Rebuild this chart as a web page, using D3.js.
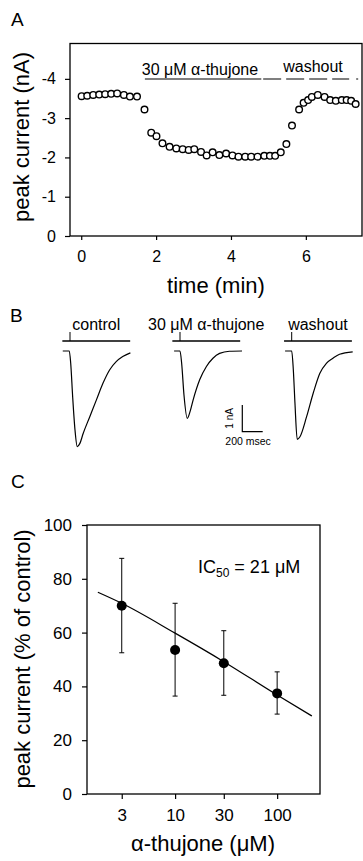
<!DOCTYPE html>
<html>
<head>
<meta charset="utf-8">
<script src="https://cdn.jsdelivr.net/npm/d3@7"></script>
<style>
  html, body { margin: 0; padding: 0; background: #fff; }
  svg { display: block; font-family: 'Liberation Sans', Arial, sans-serif; }
  text { fill: #000; }
</style>
</head>
<body>
<div id="chart"></div>
<script>
'use strict';

// ---- panel A: peak current vs time ----
var timeMin = [0.01, 0.16, 0.32, 0.48, 0.64, 0.80, 0.96, 1.14, 1.30, 1.49,
    1.69, 1.87, 2.01, 2.17, 2.36, 2.54, 2.71, 2.87, 3.02, 3.20,
    3.35, 3.51, 3.69, 3.87, 4.04, 4.20, 4.38, 4.54, 4.71, 4.89,
    5.04, 5.18, 5.33, 5.48, 5.63, 5.82, 5.94, 6.06, 6.16, 6.32,
    6.50, 6.65, 6.80, 6.96, 7.09, 7.21, 7.33];
var peakNA = [-3.56, -3.57, -3.59, -3.60, -3.61, -3.62, -3.63, -3.59, -3.55, -3.55,
    -3.22, -2.63, -2.54, -2.36, -2.27, -2.23, -2.21, -2.19, -2.21, -2.14,
    -2.05, -2.13, -2.06, -2.10, -2.05, -2.02, -2.02, -2.02, -2.02, -2.04,
    -2.04, -2.04, -2.13, -2.34, -2.81, -3.22, -3.39, -3.46, -3.54, -3.59,
    -3.54, -3.46, -3.44, -3.46, -3.46, -3.44, -3.36];
var timeTicks = [0, 2, 4, 6];
var currentTicks = [0, -1, -2, -3, -4];
var thujonePeriod = [1.70, 4.81];
var washoutPeriod = [4.86, 7.5];

// ---- panel B: current traces ----
var traceLabels = ['control', '30 \u03bcM \u03b1-thujone', 'washout'];
var controlMs = [-71, -7, 7, 26, 49, 71, 97, 129, 194, 259, 323, 388, 453, 517, 592];
var controlNA = [0, 0, -0.46, -1.71, -2.96, -3.58, -3.46, -3.09, -2.46, -1.83, -1.21, -0.71, -0.40, -0.21, -0.07];
var thujoneMs = [-58, 0, 16, 39, 71, 100, 129, 194, 259, 323, 388, 485, 608];
var thujoneNA = [0, 0, -0.45, -1.65, -2.52, -2.25, -1.83, -1.07, -0.58, -0.27, -0.09, -0.01, 0];
var washoutMs = [-65, 0, 16, 32, 54, 81, 146, 210, 275, 340, 404, 469, 598];
var washoutNA = [0, 0, -0.71, -1.96, -3.31, -3.21, -2.46, -1.59, -0.84, -0.46, -0.27, -0.12, -0.03];
var stimulusMs = [-75, 590];

// ---- panel C: concentration response ----
var concUM = [3, 10, 30, 100];
var pctMean = [70, 53.5, 48.6, 37.4];
var pctUpper = [87.6, 70.9, 60.7, 45.4];
var pctLower = [52.5, 36.4, 36.7, 29.7];
var fitConc = [1.75, 3, 10, 30, 100, 219];
var fitPct = [75, 70.9, 59.8, 49.2, 36.8, 29];
var concTicks = [3, 10, 30, 100];
var pctTicks = [0, 20, 40, 60, 80, 100];

var W = 363, H = 861;
var svg = d3.select('#chart').append('svg')
    .attr('width', W)
    .attr('height', H);
svg.append('rect').attr('width', W).attr('height', H).attr('fill', '#fff');

function styleAxis(g, size) {
    g.select('.domain').remove();
    g.selectAll('line').attr('stroke', '#000').attr('stroke-width', 1.2);
    g.selectAll('text').attr('font-size', size).attr('fill', '#000')
        .attr('font-family', "'Liberation Sans', Arial, sans-serif");
}

// ================= A =================
var xA = d3.scaleLinear().domain([-0.3, 7.5]).range([70, 362]);
var yA = d3.scaleLinear().domain([0, -4.9]).range([236, 43.5]);

svg.append('text').attr('x', 11).attr('y', 26).attr('font-size', 19).text('A');

svg.append('rect')
    .attr('x', xA.range()[0]).attr('y', yA.range()[1])
    .attr('width', xA.range()[1] - xA.range()[0])
    .attr('height', yA.range()[0] - yA.range()[1])
    .attr('fill', 'none').attr('stroke', '#000').attr('stroke-width', 1.3);

svg.append('g').attr('transform', 'translate(0,' + yA.range()[0] + ')')
    .call(d3.axisBottom(xA).tickValues(timeTicks).tickSize(4).tickPadding(11).tickFormat(d3.format('d')))
    .call(styleAxis, 16);
svg.append('g').attr('transform', 'translate(' + xA.range()[0] + ',0)')
    .call(d3.axisLeft(yA).tickValues(currentTicks).tickSize(5).tickPadding(9)
        .tickFormat(function(d) { return d === 0 ? '0' : '-' + Math.abs(d); }))
    .call(styleAxis, 16);

svg.append('text').attr('x', 216).attr('y', 293).attr('text-anchor', 'middle')
    .attr('font-size', 22).text('time (min)');
svg.append('text').attr('transform', 'translate(29,137) rotate(-90)')
    .attr('text-anchor', 'middle').attr('font-size', 22).text('peak current (nA)');

// treatment bars
svg.append('line')
    .attr('x1', xA(thujonePeriod[0])).attr('x2', xA(thujonePeriod[1]))
    .attr('y1', 79).attr('y2', 79).attr('stroke', '#000').attr('stroke-width', 1.2);
svg.append('text').attr('x', xA(thujonePeriod[0]) - 3).attr('y', 75)
    .attr('font-size', 16).text('30 \u03bcM \u03b1-thujone');
svg.append('line')
    .attr('x1', xA(washoutPeriod[0])).attr('x2', xA(washoutPeriod[1]))
    .attr('y1', 79).attr('y2', 79).attr('stroke', '#000').attr('stroke-width', 1.2)
    .attr('stroke-dasharray', '18,5,18,5,18,5,17,7,2,10');
svg.append('text').attr('x', 313).attr('y', 72).attr('text-anchor', 'middle')
    .attr('font-size', 16).text('washout');

svg.append('g').selectAll('circle')
    .data(timeMin)
    .enter().append('circle')
    .attr('cx', function(d) { return xA(d); })
    .attr('cy', function(d, i) { return yA(peakNA[i]); })
    .attr('r', 3.3)
    .attr('fill', '#fff')
    .attr('stroke', '#000')
    .attr('stroke-width', 1.4);

// ================= B =================
svg.append('text').attr('x', 10).attr('y', 322).attr('font-size', 19).text('B');

var traceOnsetX = [70, 180, 291.7];
var traceMs = [controlMs, thujoneMs, washoutMs];
var traceNA = [controlNA, thujoneNA, washoutNA];
var pxPerMs = 0.102;
var yB = d3.scaleLinear().domain([0, -1]).range([351, 377.7]);

traceOnsetX.forEach(function(x0, k) {
    var xB = d3.scaleLinear().domain([0, 200]).range([x0, x0 + 200 * pxPerMs]);
    var g = svg.append('g');
    // stimulus bar with onset tick
    g.append('line')
        .attr('x1', xB(stimulusMs[0])).attr('x2', xB(stimulusMs[1]))
        .attr('y1', 341).attr('y2', 341)
        .attr('stroke', '#000').attr('stroke-width', 1.4);
    g.append('line')
        .attr('x1', xB(0)).attr('x2', xB(0))
        .attr('y1', 341).attr('y2', 332)
        .attr('stroke', '#000').attr('stroke-width', 1);
    g.append('text')
        .attr('x', xB((stimulusMs[0] + stimulusMs[1]) / 2)).attr('y', 330)
        .attr('text-anchor', 'middle').attr('font-size', 16)
        .text(traceLabels[k]);
    var line = d3.line()
        .x(function(d) { return xB(d); })
        .y(function(d, i) { return yB(traceNA[k][i]); })
        .curve(d3.curveMonotoneX);
    g.append('path')
        .attr('d', line(traceMs[k]))
        .attr('fill', 'none').attr('stroke', '#000').attr('stroke-width', 1.2);
});

// scale bar: 1 nA, 200 msec
var sbX = 242.3, sbY = 431.7;
var sbH = yB(-1) - yB(0), sbW = 200 * pxPerMs;
svg.append('path')
    .attr('d', 'M' + sbX + ',' + (sbY - sbH) + 'V' + sbY + 'H' + (sbX + sbW))
    .attr('fill', 'none').attr('stroke', '#000').attr('stroke-width', 1.2);
svg.append('text').attr('transform', 'translate(233,' + (sbY - sbH / 2) + ') rotate(-90)')
    .attr('text-anchor', 'middle').attr('font-size', 10).text('1 nA');
svg.append('text').attr('x', sbX - 17).attr('y', 445)
    .attr('font-size', 10.5).text('200 msec');

// ================= C =================
svg.append('text').attr('x', 11).attr('y', 488).attr('font-size', 19).text('C');

var xC = d3.scaleLog().domain([1.37, 263]).range([87, 320]);
var yC = d3.scaleLinear().domain([0, 100]).range([794, 525]);

svg.append('rect')
    .attr('x', 87).attr('y', yC(100))
    .attr('width', 320 - 87).attr('height', yC(0) - yC(100))
    .attr('fill', 'none').attr('stroke', '#000').attr('stroke-width', 1.3);

svg.append('g').attr('transform', 'translate(0,' + yC(0) + ')')
    .call(d3.axisBottom(xC).tickValues(concTicks).tickSize(5).tickPadding(10).tickFormat(d3.format('d')))
    .call(styleAxis, 17);
svg.append('g').attr('transform', 'translate(87,0)')
    .call(d3.axisLeft(yC).tickValues(pctTicks).tickSize(5).tickPadding(10).tickFormat(d3.format('d')))
    .call(styleAxis, 17);

svg.append('text').attr('x', 203).attr('y', 851).attr('text-anchor', 'middle')
    .attr('font-size', 22).text('\u03b1-thujone (\u03bcM)');
svg.append('text').attr('transform', 'translate(30,659) rotate(-90)')
    .attr('text-anchor', 'middle').attr('font-size', 22).text('peak current (% of control)');

var ic = svg.append('text').attr('x', 198).attr('y', 573).attr('font-size', 18);
ic.append('tspan').text('IC');
ic.append('tspan').attr('font-size', 12).attr('dy', 4).text('50');
ic.append('tspan').attr('dy', -4).text(' = 21 \u03bcM');

var fitLine = d3.line()
    .x(function(d) { return xC(d); })
    .y(function(d, i) { return yC(fitPct[i]); })
    .curve(d3.curveMonotoneX);
svg.append('path')
    .attr('d', fitLine(fitConc))
    .attr('fill', 'none').attr('stroke', '#000').attr('stroke-width', 1.2);

var eb = svg.append('g').selectAll('g')
    .data(concUM)
    .enter().append('g');
eb.append('line')
    .attr('x1', function(d) { return xC(d); }).attr('x2', function(d) { return xC(d); })
    .attr('y1', function(d, i) { return yC(pctUpper[i]); })
    .attr('y2', function(d, i) { return yC(pctLower[i]); })
    .attr('stroke', '#000').attr('stroke-width', 1);
[pctUpper, pctLower].forEach(function(arr) {
    eb.append('line')
        .attr('x1', function(d) { return xC(d) - 2.5; }).attr('x2', function(d) { return xC(d) + 2.5; })
        .attr('y1', function(d, i) { return yC(arr[i]); })
        .attr('y2', function(d, i) { return yC(arr[i]); })
        .attr('stroke', '#000').attr('stroke-width', 1);
});
eb.append('circle')
    .attr('cx', function(d) { return xC(d); })
    .attr('cy', function(d, i) { return yC(pctMean[i]); })
    .attr('r', 5)
    .attr('fill', '#000');
</script>
</body>
</html>
